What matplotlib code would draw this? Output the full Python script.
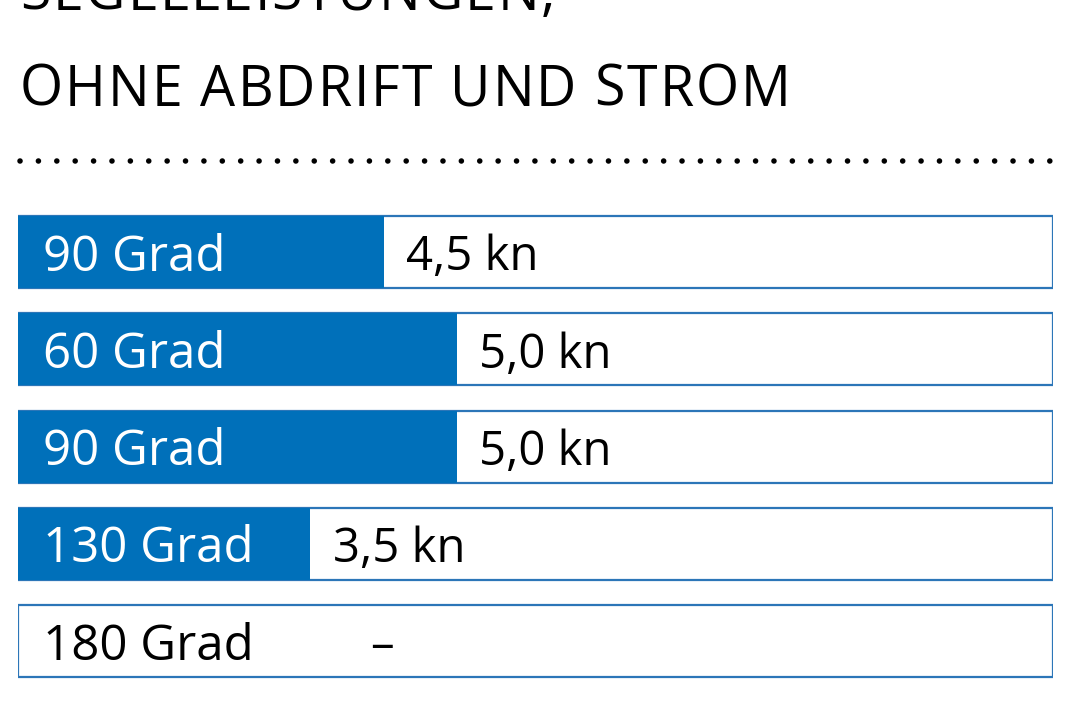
import matplotlib.pyplot as plt
from matplotlib.lines import Line2D

# ── Daten ──
angles = ["90 Grad", "60 Grad", "90 Grad", "130 Grad", "180 Grad"]
speed_labels = ["4,5 kn", "5,0 kn", "5,0 kn", "3,5 kn", "–"]
bar_fill = [4.42, 5.30, 5.30, 3.53, 0.0]
box_max = 12.5
title_lines = ["SEGELLEISTUNGEN,", "OHNE ABDRIFT UND STROM"]

BLUE = "#0070BA"
EDGE = "#2C76B8"
W, H = 1068, 712

plt.rcParams["font.family"] = ["Open Sans", "DejaVu Sans"]

fig = plt.figure(figsize=(W / 100, H / 100), dpi=100)
renderer = fig.canvas.get_renderer()


def spaced_text(x_px, y_px, s, tracking, **kw):
    # Text mit Sperrung, Zeichen für Zeichen
    x = x_px
    for ch in s:
        t = fig.text(x / W, 1 - y_px / H, ch, ha="left", va="baseline", **kw)
        x += t.get_window_extent(renderer).width + tracking
    return x


# Titel (erste Zeile ist oben angeschnitten, wie im Original)
spaced_text(20, 10, title_lines[0], 1.9, fontsize=40, color="black")
spaced_text(20, 106, title_lines[1], 1.9, fontsize=40, color="black")

# gepunktete Linie
fig.add_artist(Line2D([20 / W, 1055 / W], [1 - 161 / H, 1 - 161 / H],
                      transform=fig.transFigure, color="black",
                      linestyle=(0, (0.01, 3.3)), linewidth=4.0,
                      dash_capstyle="round", solid_capstyle="round"))

# Balken
row0, step = 252, 97.25
top = row0 - step / 2
bottom = row0 + step * 4 + step / 2
ax = fig.add_axes([18 / W, (H - bottom) / H, 1035 / W, (bottom - top) / H])
ax.set_xlim(0, box_max)
ax.set_ylim(4.5, -0.5)
ax.axis("off")

ys = list(range(len(angles)))
bh = 72 / step
ax.barh(ys, [box_max] * len(ys), height=bh, color="white", edgecolor=EDGE,
        linewidth=1.6, zorder=1)
ax.barh(ys, bar_fill, height=bh, color=BLUE, edgecolor="none", zorder=2)

for y, name, lab, fill in zip(ys, angles, speed_labels, bar_fill):
    tcol = "white" if fill > 0 else "black"
    ax.annotate(name, (0, y), xytext=(18, 0), textcoords="offset points",
                ha="left", va="center_baseline", fontsize=35.5, color=tcol,
                zorder=3)
    if fill > 0:
        ax.annotate(lab, (fill, y), xytext=(16, 0), textcoords="offset points",
                    ha="left", va="center_baseline", fontsize=34,
                    color="black", zorder=3)
    else:
        ax.annotate(lab, (4.25, y), ha="left", va="center_baseline",
                    fontsize=34, color="black", zorder=3)

fig.savefig("out.png", dpi=100)
